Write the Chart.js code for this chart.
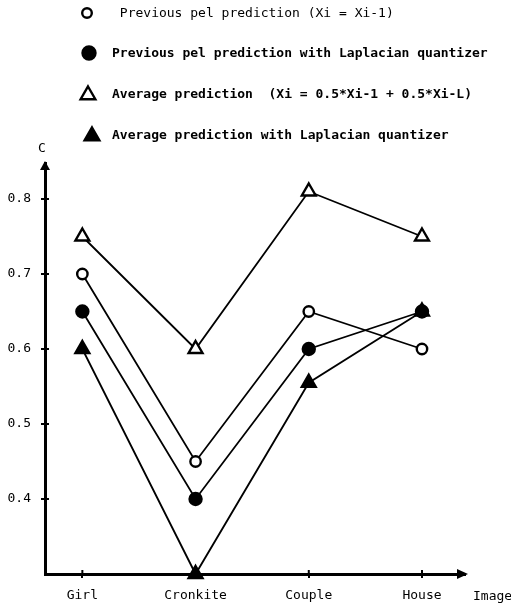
<!DOCTYPE html>
<html>
<head>
<meta charset="utf-8">
<script src="https://cdn.jsdelivr.net/npm/chart.js@4.4.0/dist/chart.umd.min.js"></script>
<style>
  html, body { margin: 0; padding: 0; background: #fff; }
  #wrap { width: 511px; height: 605px; position: relative; }
</style>
</head>
<body>
<div id="wrap"><canvas id="chart"></canvas></div>
<script>
// Data
const categories = ['Girl', 'Cronkite', 'Couple', 'House'];
const prevPel = [0.70, 0.45, 0.65, 0.60];
const prevPelLaplacian = [0.65, 0.40, 0.60, 0.65];
const avgPred = [0.75, 0.60, 0.81, 0.75];
const avgPredLaplacian = [0.60, 0.30, 0.555, 0.65];
const yTicks = [0.4, 0.5, 0.6, 0.7, 0.8];

const seriesLabels = [
    ' Previous pel prediction (Xi = Xi-1)',
    'Previous pel prediction with Laplacian quantizer',
    'Average prediction  (Xi = 0.5*Xi-1 + 0.5*Xi-L)',
    'Average prediction with Laplacian quantizer'
];

const FONT = "'DejaVu Sans Mono', 'Liberation Mono', monospace";
const INK = '#000';

function toPoints(values) {
    return values.map((v, i) => ({ x: i, y: v }));
}

function makeSet(label, values, style, filled, radius) {
    return {
        label: label,
        data: toPoints(values),
        borderColor: INK,
        borderWidth: 1.8,
        backgroundColor: filled ? INK : '#fff',
        pointStyle: style,
        pointRadius: radius,
        pointBorderWidth: 2.4,
        pointBorderColor: INK,
        pointBackgroundColor: filled ? INK : '#fff',
        clip: false,
        tension: 0
    };
}

// Legend, axis arrows and axis names
const decorPlugin = {
    id: 'decor',
    afterDraw(chart) {
        const ctx = chart.ctx;
        const area = chart.chartArea;
        ctx.save();

        // legend rows
        const rowY = [13, 53, 94, 135];
        const markX = [87, 89, 88, 92];
        const textX = 112;
        chart.data.datasets.forEach((ds, i) => {
            ctx.fillStyle = ds.pointBackgroundColor;
            ctx.strokeStyle = INK;
            Chart.helpers.drawPoint(ctx, {
                pointStyle: ds.pointStyle,
                radius: ds.pointStyle === 'triangle' ? 8.5 : (i === 0 ? 4.8 : 6.5),
                borderWidth: 3.2,
                rotation: 0
            }, markX[i], rowY[i] + (ds.pointStyle === 'triangle' ? 1 : 0));
            ctx.fillStyle = INK;
            ctx.font = (i === 0 ? '' : 'bold ') + '13px ' + FONT;
            ctx.textBaseline = 'middle';
            ctx.textAlign = 'left';
            ctx.fillText(ds.label, textX, rowY[i] + 1);
        });

        // axis arrows
        ctx.fillStyle = INK;
        ctx.beginPath();
        ctx.moveTo(area.left, area.top - 2);
        ctx.lineTo(area.left - 5, area.top + 7);
        ctx.lineTo(area.left + 5, area.top + 7);
        ctx.closePath();
        ctx.fill();

        ctx.beginPath();
        ctx.moveTo(area.right + 3, area.bottom);
        ctx.lineTo(area.right - 8, area.bottom - 5);
        ctx.lineTo(area.right - 8, area.bottom + 5);
        ctx.closePath();
        ctx.fill();

        // small cross marks on the inner side of the axes
        ctx.lineWidth = 2;
        ctx.strokeStyle = INK;
        const xs = chart.scales.x, ys = chart.scales.y;
        categories.forEach((_, i) => {
            const px = xs.getPixelForValue(i);
            ctx.beginPath();
            ctx.moveTo(px, area.bottom);
            ctx.lineTo(px, area.bottom - 4);
            ctx.stroke();
        });
        yTicks.forEach(v => {
            const py = ys.getPixelForValue(v);
            ctx.beginPath();
            ctx.moveTo(area.left, py);
            ctx.lineTo(area.left + 4, py);
            ctx.stroke();
        });

        // axis names
        ctx.font = '13px ' + FONT;
        ctx.textBaseline = 'middle';
        ctx.textAlign = 'center';
        ctx.fillText('C', area.left - 3, area.top - 14);
        ctx.textAlign = 'left';
        ctx.fillText('Image', area.right + 8, area.bottom + 23);

        ctx.restore();
    }
};

const ctx = document.getElementById('chart').getContext('2d');
new Chart(ctx, {
    type: 'line',
    data: {
        datasets: [
            makeSet(seriesLabels[0], prevPel, 'circle', false, 5.2),
            makeSet(seriesLabels[1], prevPelLaplacian, 'circle', true, 6),
            makeSet(seriesLabels[2], avgPred, 'triangle', false, 8),
            makeSet(seriesLabels[3], avgPredLaplacian, 'triangle', true, 8)
        ]
    },
    options: {
        responsive: true,
        maintainAspectRatio: false,
        animation: false,
        layout: { padding: { top: 163, right: 46, left: 0, bottom: 0 } },
        plugins: {
            legend: { display: false },
            tooltip: { enabled: false }
        },
        scales: {
            x: {
                type: 'linear',
                position: 'bottom',
                min: -0.33,
                max: 3.38,
                afterBuildTicks: (scale) => {
                    scale.ticks = categories.map((_, i) => ({ value: i }));
                },
                afterFit: (scale) => { scale.height = 31; },
                ticks: {
                    color: INK,
                    font: { family: FONT, size: 13 },
                    padding: 10,
                    maxRotation: 0,
                    callback: (value) => categories[value]
                },
                grid: {
                    drawOnChartArea: false,
                    drawTicks: true,
                    tickLength: 4,
                    color: INK,
                    lineWidth: 2
                },
                border: { color: INK, width: 3 }
            },
            y: {
                min: 0.3,
                max: 0.848,
                afterBuildTicks: (scale) => {
                    scale.ticks = yTicks.map(v => ({ value: v }));
                },
                afterFit: (scale) => { scale.width = 45; },
                ticks: {
                    color: INK,
                    font: { family: FONT, size: 13 },
                    padding: 10,
                    callback: (value) => value.toFixed(1)
                },
                grid: {
                    drawOnChartArea: false,
                    drawTicks: true,
                    tickLength: 4,
                    color: INK,
                    lineWidth: 2
                },
                border: { color: INK, width: 3 }
            }
        }
    },
    plugins: [decorPlugin]
});
</script>
</body>
</html>
